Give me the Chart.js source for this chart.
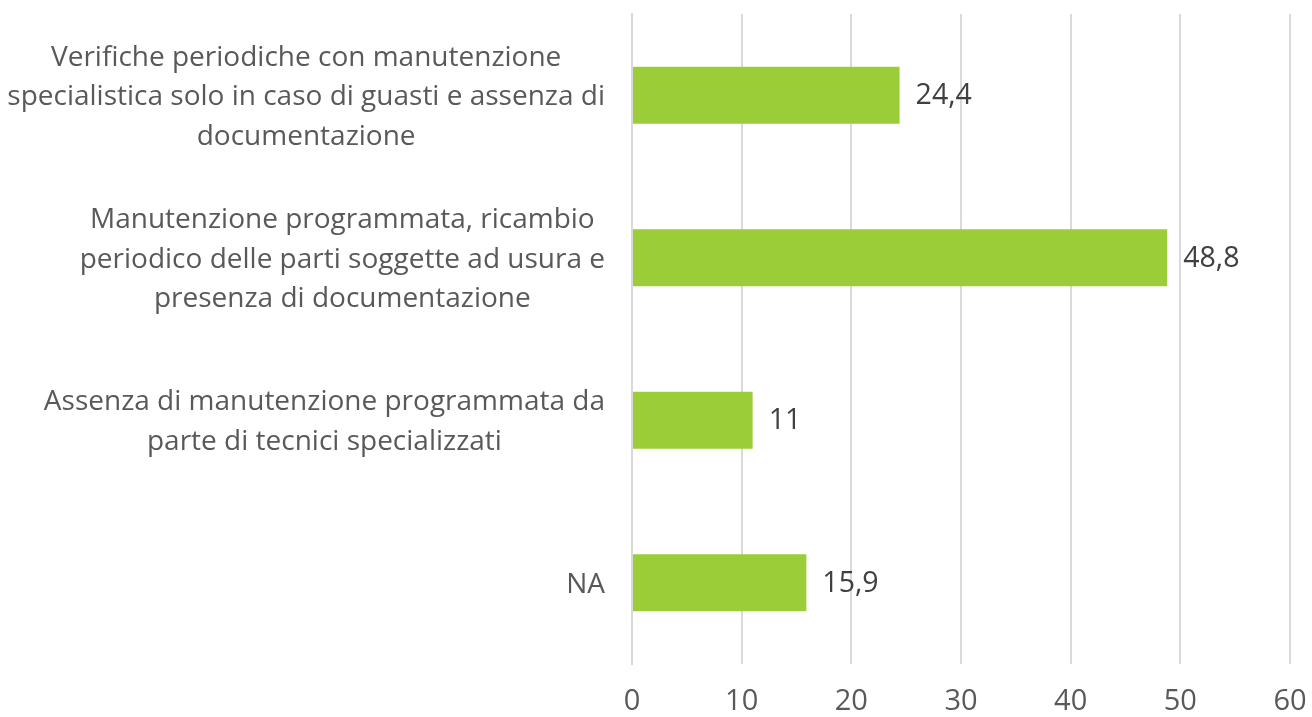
<!DOCTYPE html>
<html>
<head>
<meta charset="utf-8">
<script src="https://cdn.jsdelivr.net/npm/chart.js@4"></script>
<style>
  html, body { margin: 0; padding: 0; background: #fff; }
  #wrap { width: 1312px; height: 717px; }
</style>
</head>
<body>
<div id="wrap"><canvas id="chart"></canvas></div>
<script>
// categories, one array of lines per bar
const categories = [
  ['Verifiche periodiche con manutenzione', 'specialistica solo in caso di guasti e assenza di', 'documentazione'],
  ['Manutenzione programmata, ricambio', 'periodico delle parti soggette ad usura e', 'presenza di documentazione'],
  ['Assenza di manutenzione programmata da', 'parte di tecnici specializzati'],
  ['NA']
];
const values = [24.4, 48.8, 11, 15.9];
const xTicks = [0, 10, 20, 30, 40, 50, 60];

const FONT = 'Open Sans';

// draws the value next to each bar, italian decimal comma
const valueLabels = {
  id: 'valueLabels',
  afterDatasetsDraw(chart) {
    const ctx = chart.ctx;
    const meta = chart.getDatasetMeta(0);
    ctx.save();
    ctx.font = '28.5px ' + FONT;
    ctx.fillStyle = '#404040';
    ctx.textAlign = 'left';
    ctx.textBaseline = 'middle';
    meta.data.forEach((bar, i) => {
      const txt = String(values[i]).replace('.', ',');
      ctx.fillText(txt, bar.x + 16, bar.y + 1);
    });
    ctx.restore();
  }
};

// excel style category labels: block right aligned, lines centred inside the block
const categoryLabels = {
  id: 'categoryLabels',
  afterDraw(chart) {
    const ctx = chart.ctx;
    const yScale = chart.scales.y;
    const right = yScale.right - 27;
    const lineH = 39.5;
    ctx.save();
    ctx.font = '28px ' + FONT;
    ctx.fillStyle = '#595959';
    ctx.textAlign = 'center';
    ctx.textBaseline = 'middle';
    categories.forEach((lines, i) => {
      const yc = yScale.getPixelForTick(i) + 2;
      const blockW = Math.max(...lines.map(l => ctx.measureText(l).width));
      const xc = right - blockW / 2;
      lines.forEach((line, j) => {
        ctx.fillText(line, xc, yc + (j - (lines.length - 1) / 2) * lineH);
      });
    });
    ctx.restore();
  }
};

// no extra room for overhanging labels, the layout padding handles it
function noOverhang(axis) {
  axis.paddingTop = 0;
  axis.paddingBottom = 0;
  axis.paddingLeft = 0;
  axis.paddingRight = 0;
}

new Chart(document.getElementById('chart'), {
  type: 'bar',
  data: {
    labels: categories,
    datasets: [{
      data: values,
      backgroundColor: '#9acd37',
      barPercentage: 0.35,
      categoryPercentage: 1
    }]
  },
  options: {
    indexAxis: 'y',
    responsive: true,
    maintainAspectRatio: false,
    animation: false,
    layout: { padding: { top: 14, right: 22, left: 0, bottom: 0 } },
    plugins: {
      legend: { display: false },
      tooltip: { enabled: false }
    },
    scales: {
      x: {
        min: 0,
        max: 60,
        afterBuildTicks(axis) { axis.ticks = xTicks.map(v => ({ value: v })); },
        afterFit(axis) { axis.height = 53; noOverhang(axis); },
        grid: { color: '#d9d9d9', lineWidth: 2, drawTicks: false },
        border: { display: false },
        ticks: {
          padding: 20,
          color: '#595959',
          font: { family: FONT, size: 29 }
        }
      },
      y: {
        afterFit(axis) { axis.width = 632; noOverhang(axis); },
        grid: { display: false, drawTicks: false },
        border: { display: true, color: '#d9d9d9', width: 2 },
        ticks: { display: false }
      }
    }
  },
  plugins: [valueLabels, categoryLabels]
});
</script>
</body>
</html>
